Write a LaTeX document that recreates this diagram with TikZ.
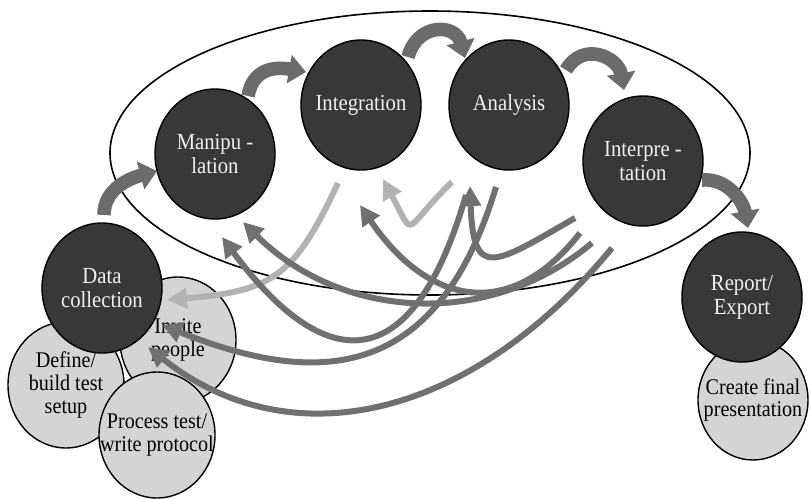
\documentclass[tikz,border=0pt]{standalone}
\usepackage{fontspec}
\setmainfont{Liberation Serif}
\newfontfamily\narrowserif{Liberation Serif}[FakeStretch=0.9]
\usetikzlibrary{arrows.meta, shapes.geometric}

\begin{document}
\begin{tikzpicture}[x=0.5pt, y=0.5pt,
    stage/.style={ellipse, draw=black, line width=0.7pt, fill=black!78, text=black!6,
      inner sep=-15pt, minimum width=60pt, minimum height=65pt, align=center,
      font=\narrowserif\fontsize{11.5}{12}\selectfont},
    task/.style={ellipse, draw=black, line width=0.7pt, fill=black!17, text=black,
      inner sep=-15pt, minimum width=58pt, minimum height=63pt, align=center,
      font=\narrowserif\fontsize{11.2}{11.3}\selectfont},
    fwd/.style={draw=black!58, line width=6.8pt, -{Triangle[width=14pt, length=8.5pt]}},
    fb/.style={draw=black!56, line width=3pt, -{Triangle[width=10pt, length=10pt]}},
    fbl/.style={fb, draw=black!30}]

  \useasboundingbox (0,0) rectangle (811,-499);

  % the analysis loop
  \node[ellipse, draw, line width=0.8pt, minimum width=320pt, minimum height=142pt] (loop) at (430,-153) {};

  % tasks round data collection and report
  \node[task] (def) at (66,-385) {Define/\\build test\\setup};
  \node[task] (inv) at (178,-340) {Invite\\people};
  \node[task] (proc) at (157,-435) {Process test/\\write protocol};
  \node[task, minimum width=55pt, minimum height=60pt] (fin) at (753,-400) {Create final\\presentation};

  % stages
  \node[stage] (dc) at (102,-288) {Data\\collection};
  \node[stage] (man) at (215,-154) {Manipu -\\lation};
  \node[stage] (integ) at (361,-105) {Integration};
  \node[stage] (anal) at (509,-105) {Analysis};
  \node[stage] (interp) at (643,-161) {Interpre -\\tation};
  \node[stage] (rep) at (742,-297) {Report/\\Export};

  % forward steps
  \draw[fwd] ([shift={(2,73)}]dc.center) to[out=90, in=195] ([shift={(-58,-17)}]man.center);
  \draw[fwd] ([shift={(33,58)}]man.center) to[out=80, in=170, looseness=1.2] ([shift={(-55,33)}]integ.center);
  \draw[fwd] ([shift={(47,48)}]integ.center) to[out=75, in=105, looseness=1.6] ([shift={(-44,47)}]anal.center);
  \draw[fwd] ([shift={(57,35)}]anal.center) to[out=60, in=100, looseness=1.4] ([shift={(-19,71)}]interp.center);
  \draw[fwd] ([shift={(59,-19)}]interp.center) to[out=5, in=100] ([shift={(6,69)}]rep.center);

  % feedback
  \draw[fbl] ([shift={(-23,-78)}]integ.center) to[out=-115, in=5, looseness=1.3] ([shift={(65,-12)}]dc.center);
  \draw[fbl] ([shift={(-57,-77)}]anal.center) to[out=-136, in=-62, looseness=2.6] ([shift={(22,-74)}]integ.center);
  \draw[fb] ([shift={(-68,-57)}]interp.center) to[out=-150, in=-88, looseness=2.2] ([shift={(-39,-81)}]anal.center);
  \draw[fb] ([shift={(-63,-72)}]interp.center) to[out=-128, in=-56, looseness=1.35] ([shift={(-1,-100)}]integ.center);
  \draw[fb] ([shift={(-51,-82)}]interp.center) to[out=-140, in=-45] ([shift={(28,-68)}]man.center);
  \draw[fb] ([shift={(-31,-87)}]interp.center) .. controls +(-142,-172) and +(142,-113) .. ([shift={(46,-59)}]dc.center);
  \draw[fb] ([shift={(-43,-90)}]anal.center) .. controls +(-55,-190) and +(100,-135) .. ([shift={(7,-83)}]man.center);
  \draw[fb] ([shift={(-13,-82)}]anal.center) .. controls +(-60,-200) and +(150,-60) .. ([shift={(60,-37)}]dc.center);
\end{tikzpicture}
\end{document}
